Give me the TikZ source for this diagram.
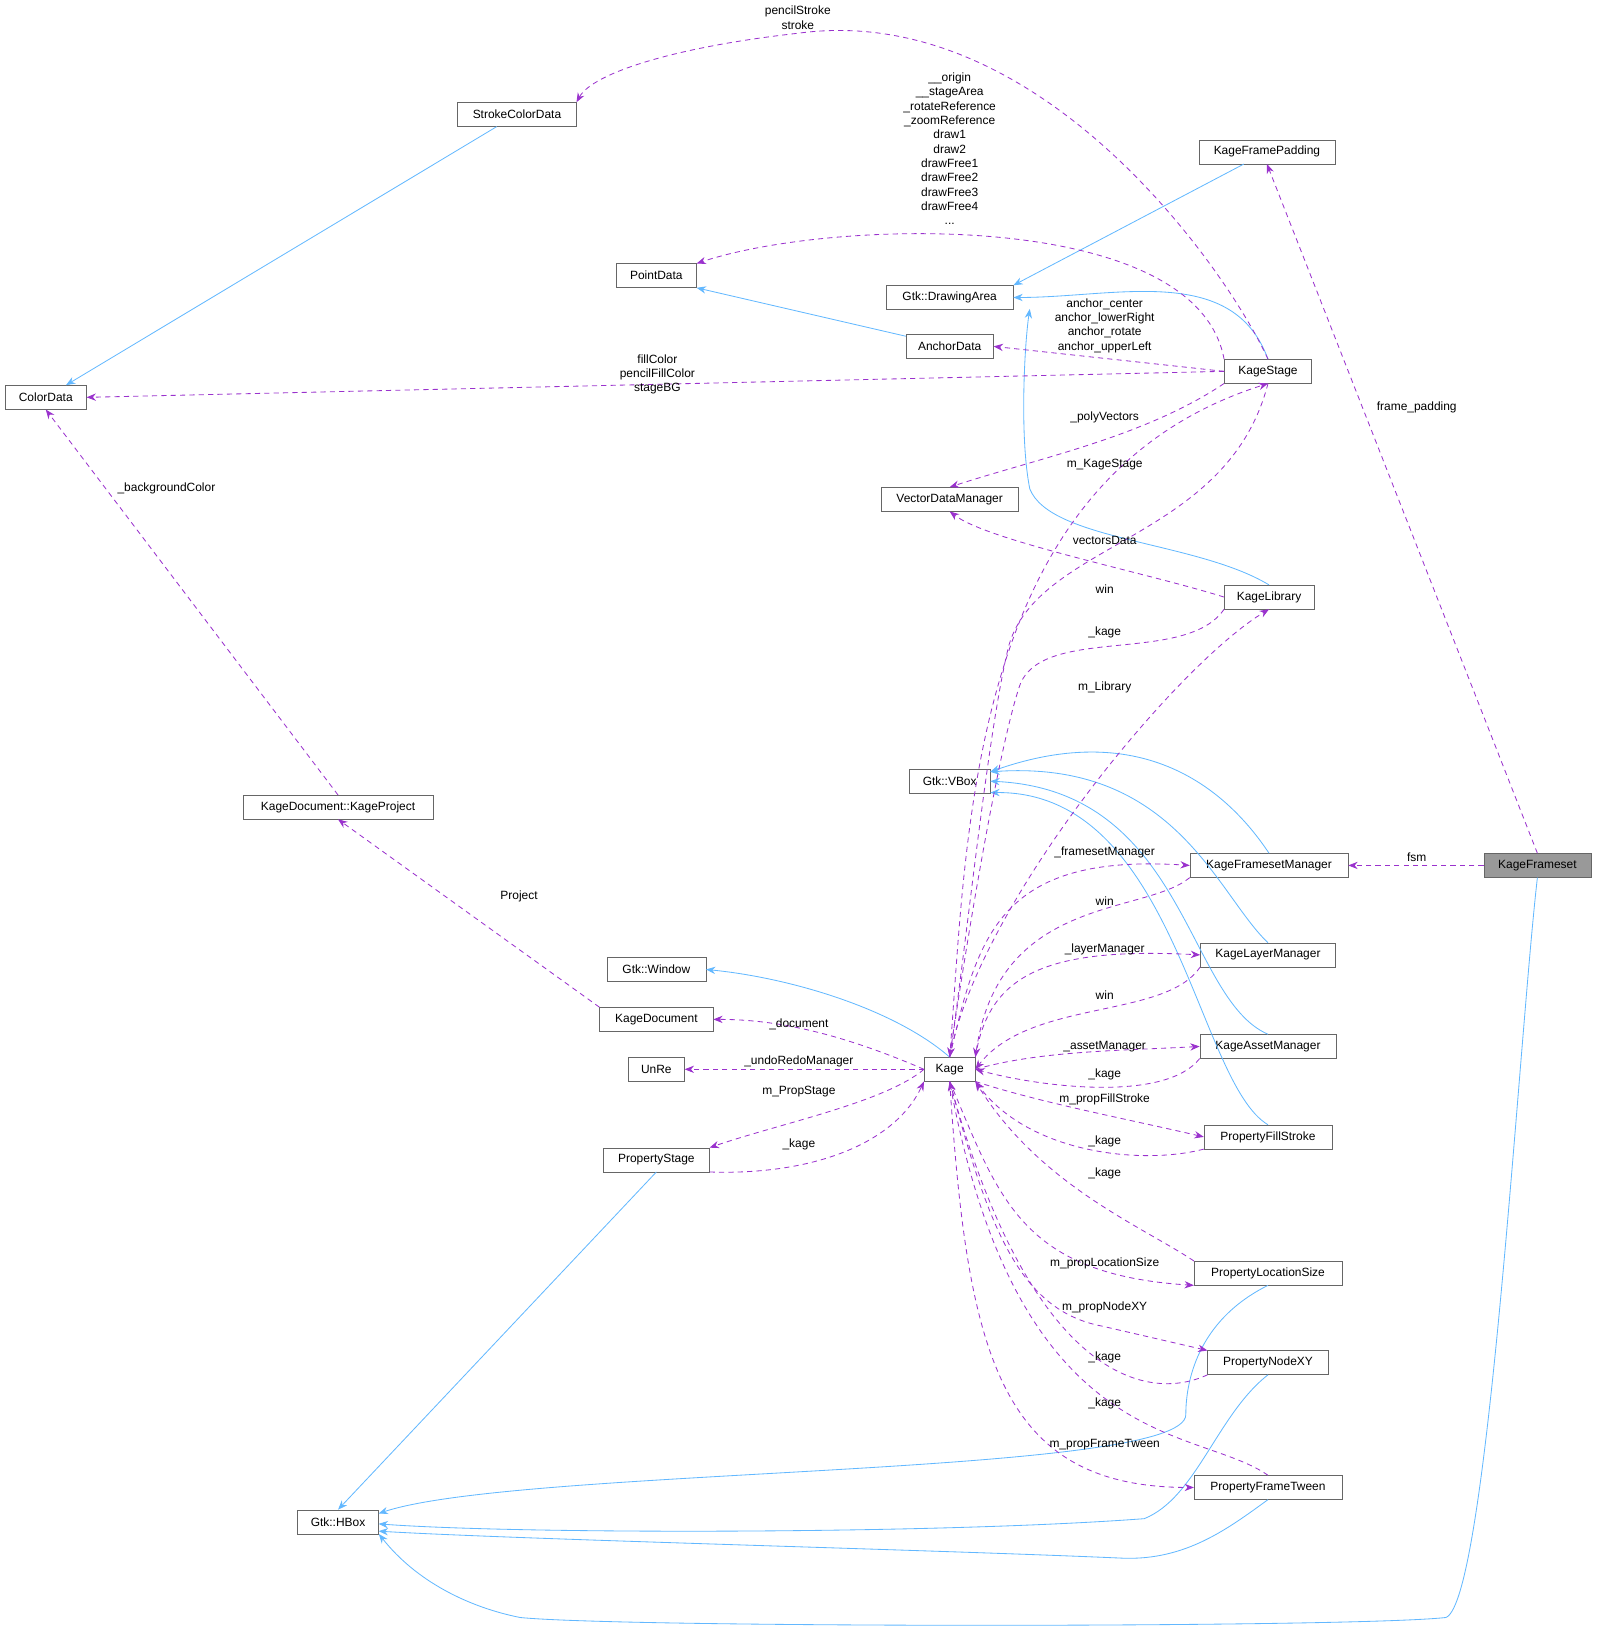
\documentclass[tikz,border=0pt]{standalone}
\usepackage{fontspec}
\setmainfont{Liberation Sans}
\usetikzlibrary{arrows.meta}
\begin{document}
\begin{tikzpicture}[x=1pt,y=-1pt,
  cls/.style={draw=black!60,fill=white,inner sep=0pt,minimum height=23pt,font=\fontsize{11.5}{13}\selectfont},
  lbl/.style={font=\fontsize{11.5}{13.8}\selectfont,align=center,inner sep=0pt},
  inh/.style={draw={rgb,255:red,99;green,184;blue,255},line width=0.8pt,-{Stealth[length=9pt,width=7pt]}},
  use/.style={draw={rgb,255:red,154;green,50;blue,205},line width=0.8pt,dash pattern=on 5pt off 4pt,-{Stealth[length=9pt,width=7pt]}}]
\useasboundingbox (0,0) rectangle (1536,1568);
\node[cls,minimum width=114pt] (scd) at (497,110) {StrokeColorData};
\node[cls,minimum width=131pt] (kfp) at (1218,146) {KageFramePadding};
\node[cls,minimum width=77pt] (pd) at (631,265) {PointData};
\node[cls,minimum width=122pt] (da) at (913,286) {Gtk::DrawingArea};
\node[cls,minimum width=84pt] (ad) at (913,333) {AnchorData};
\node[cls,minimum width=84pt] (ks) at (1219,357) {KageStage};
\node[cls,minimum width=78pt] (cd) at (44,382) {ColorData};
\node[cls,minimum width=131pt] (vdm) at (913,480) {VectorDataManager};
\node[cls,minimum width=86pt] (kl) at (1220,574) {KageLibrary};
\node[cls,minimum width=78pt] (vb) at (913,751) {Gtk::VBox};
\node[cls,minimum width=183pt] (kp) at (325,776) {KageDocument::KageProject};
\node[cls,minimum width=152pt] (kfm) at (1220,832) {KageFramesetManager};
\node[cls,minimum width=103pt,fill={rgb,255:red,153;green,153;blue,153}] (kf) at (1478,832) {KageFrameset};
\node[cls,minimum width=95pt] (gw) at (631,932) {Gtk::Window};
\node[cls,minimum width=130pt] (klm) at (1219,918) {KageLayerManager};
\node[cls,minimum width=109pt] (kd) at (631,980) {KageDocument};
\node[cls,minimum width=49pt] (k) at (913,1028) {Kage};
\node[cls,minimum width=54pt] (ur) at (631,1028) {UnRe};
\node[cls,minimum width=131pt] (kam) at (1219,1006) {KageAssetManager};
\node[cls,minimum width=102pt] (ps) at (631,1115) {PropertyStage};
\node[cls,minimum width=123pt] (pfs) at (1219,1093) {PropertyFillStroke};
\node[cls,minimum width=142pt] (pls) at (1219,1224) {PropertyLocationSize};
\node[cls,minimum width=116pt] (pnx) at (1219,1310) {PropertyNodeXY};
\node[cls,minimum width=142pt] (pft) at (1219,1430) {PropertyFrameTween};
\node[cls,minimum width=78pt] (hb) at (325,1463) {Gtk::HBox};
% inheritance
\draw[inh] (scd) -- (cd);
\draw[inh] (kfp) -- (da.north east);
\draw[inh] (ad) -- (pd.south east);
\draw[inh] (ks.north) to[out=110,in=0] (da.east);
\draw[inh] (kl.north) .. controls (1150,520) and (1010,520) .. (990,470) .. controls (980,420) and (985,330) .. (990,297);
\draw[inh] (kfm.north) .. controls (1180,760) and (1100,690) .. (952,742);
\draw[inh] (klm.north) .. controls (1170,860) and (1130,730) .. (952,742);
\draw[inh] (kam.north) .. controls (1140,960) and (1140,760) .. (952,751);
\draw[inh] (pfs.north) .. controls (1150,1040) and (1130,760) .. (952,762);
\draw[inh] (k.north) .. controls (860,970) and (760,940) .. (gw.east);
\draw[inh] (ps.south) -- (hb.north);
\draw[inh] (pls.south) .. controls (1150,1270) and (1140,1330) .. (1140,1360) .. controls (1140,1420) and (500,1410) .. (364,1455);
\draw[inh] (pnx.south) .. controls (1170,1360) and (1150,1440) .. (1100,1460) .. controls (900,1475) and (500,1475) .. (364,1465);
\draw[inh] (pft.south) .. controls (1180,1470) and (1140,1500) .. (1080,1498) .. controls (900,1490) and (500,1480) .. (364,1472);
\draw[inh] (kf.south) .. controls (1460,1000) and (1430,1540) .. (1390,1555) .. controls (1300,1565) and (600,1565) .. (500,1555) .. controls (450,1545) and (400,1520) .. (hb.south east);
% usage
\draw[use] (ks.north) .. controls (1180,260) and (1000,0) .. (767,32) .. controls (650,45) and (570,70) .. (scd.north east);
\draw[use] (ks.north west) .. controls (1150,200) and (800,210) .. (pd.north east);
\draw[use] (ks.west) -- (ad.east);
\draw[use] (ks.west) -- (cd.east);
\draw[use] (ks.south west) .. controls (1100,420) and (1000,440) .. (vdm.north);
\draw[use] (kl.west) .. controls (1100,550) and (950,520) .. (vdm.south);
\draw[use] (kf.north) -- (kfp.south);
\draw[use] (kf.west) -- (kfm.east);
\draw[use] (kp.north) -- (cd.south);
\draw[use] (kd.north west) -- (kp.south);
\draw[use] (k.north) .. controls (930,800) and (930,460) .. (ks.south);
\draw[use] (ks.south) .. controls (1180,520) and (1000,520) .. (970,620) .. controls (950,700) and (930,900) .. (k.north);
\draw[use] (kl.south west) .. controls (1140,640) and (1000,600) .. (980,660) .. controls (960,720) and (930,900) .. (k.north);
\draw[use] (k.north) .. controls (940,870) and (1130,640) .. (kl.south);
\draw[use] (k.north) .. controls (940,900) and (960,820) .. (kfm.west);
\draw[use] (kfm.south west) .. controls (1100,880) and (960,860) .. (k.north east);
\draw[use] (k.north east) .. controls (950,940) and (1000,910) .. (klm.west);
\draw[use] (klm.south west) .. controls (1120,980) and (990,960) .. (k.east);
\draw[use] (k.east) .. controls (1000,1010) and (1080,1010) .. (kam.west);
\draw[use] (kam.south west) .. controls (1120,1060) and (1000,1045) .. (k.east);
\draw[use] (k.south east) .. controls (1000,1060) and (1080,1075) .. (pfs.west);
\draw[use] (pfs.south west) .. controls (1100,1120) and (990,1110) .. (k.south east);
\draw[use] (pls.north west) .. controls (1100,1180) and (1000,1140) .. (k.south east);
\draw[use] (k.south) .. controls (960,1150) and (980,1225) .. (pls.south west);
\draw[use] (k.south) .. controls (950,1180) and (980,1260) .. (1060,1275) -- (pnx.north west);
\draw[use] (pnx.south west) .. controls (1100,1350) and (990,1320) .. (k.south);
\draw[use] (pft.north) .. controls (1150,1370) and (980,1400) .. (k.south);
\draw[use] (k.south) .. controls (930,1300) and (960,1430) .. (pft.west);
\draw[use] (k.west) .. controls (800,990) and (740,980) .. (kd.east);
\draw[use] (k.west) -- (ur.east);
\draw[use] (k.west) .. controls (850,1060) and (750,1080) .. (ps.north east);
\draw[use] (ps.south east) .. controls (780,1130) and (860,1100) .. (k.south west);
% labels
\node[lbl] at (767,17) {pencilStroke\\stroke};
\node[lbl] at (913,143) {\_\_origin\\\_\_stageArea\\\_rotateReference\\\_zoomReference\\draw1\\draw2\\drawFree1\\drawFree2\\drawFree3\\drawFree4\\...};
\node[lbl] at (1062,313) {anchor\_center\\anchor\_lowerRight\\anchor\_rotate\\anchor\_upperLeft};
\node[lbl] at (632,360) {fillColor\\pencilFillColor\\stageBG};
\node[lbl] at (1062,401) {\_polyVectors};
\node[lbl] at (1062,447) {m\_KageStage};
\node[lbl] at (1062,520) {vectorsData};
\node[lbl] at (1062,566) {win};
\node[lbl] at (1062,608) {\_kage};
\node[lbl] at (1062,661) {m\_Library};
\node[lbl] at (1362,392) {frame\_padding};
\node[lbl] at (1362,824) {fsm};
\node[lbl] at (160,470) {\_backgroundColor};
\node[lbl] at (499,862) {Project};
\node[lbl] at (1062,819) {\_framesetManager};
\node[lbl] at (1062,866) {win};
\node[lbl] at (1062,913) {\_layerManager};
\node[lbl] at (1062,957) {win};
\node[lbl] at (1062,1006) {\_assetManager};
\node[lbl] at (1062,1033) {\_kage};
\node[lbl] at (1062,1057) {m\_propFillStroke};
\node[lbl] at (1062,1097) {\_kage};
\node[lbl] at (1062,1128) {\_kage};
\node[lbl] at (1062,1215) {m\_propLocationSize};
\node[lbl] at (1062,1257) {m\_propNodeXY};
\node[lbl] at (1062,1305) {\_kage};
\node[lbl] at (1062,1349) {\_kage};
\node[lbl] at (1062,1389) {m\_propFrameTween};
\node[lbl] at (768,985) {\_document};
\node[lbl] at (768,1020) {\_undoRedoManager};
\node[lbl] at (768,1049) {m\_PropStage};
\node[lbl] at (768,1100) {\_kage};
\end{tikzpicture}
\end{document}
